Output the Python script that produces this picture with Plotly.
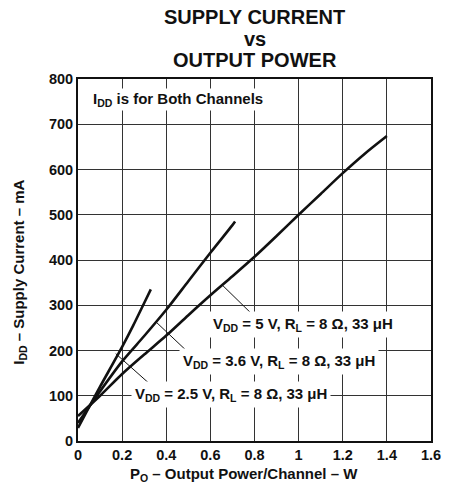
import plotly.graph_objects as go

# ---- data ----
p_5v = [0.0, 0.1, 0.2, 0.3, 0.4, 0.5, 0.6, 0.7, 0.8, 0.9, 1.0, 1.1, 1.2, 1.3, 1.4]
i_5v = [55, 100, 148, 191, 233, 278, 322, 364, 407, 453, 500, 546, 592, 635, 674]

p_36v = [0.0, 0.1, 0.2, 0.3, 0.4, 0.5, 0.6, 0.7, 0.712]
i_36v = [40, 110, 176, 232, 290, 353, 416, 477, 485]

p_25v = [0.0, 0.05, 0.1, 0.2, 0.25, 0.3, 0.33]
i_25v = [29, 75, 120, 208, 255, 305, 335]

x_ticks = [0, 0.2, 0.4, 0.6, 0.8, 1.0, 1.2, 1.4, 1.6]
x_tick_labels = ["0", "0.2", "0.4", "0.6", "0.8", "1", "1.2", "1.4", "1.6"]
y_ticks = [0, 100, 200, 300, 400, 500, 600, 700, 800]

labels = [
    "V<sub>DD</sub> = 5 V, R<sub>L</sub> = 8 Ω, 33 μH",
    "V<sub>DD</sub> = 3.6 V, R<sub>L</sub> = 8 Ω, 33 μH",
    "V<sub>DD</sub> = 2.5 V, R<sub>L</sub> = 8 Ω, 33 μH",
]
label_pos = [(1.022, 257), (0.910, 176), (0.694, 103)]
leader_start = [(0.653, 345), (0.356, 262), (0.171, 193)]
leader_end = [(0.800, 275), (0.506, 193), (0.337, 121)]

FONT = "Liberation Sans, Arial, sans-serif"

fig = go.Figure()
for xs, ys in [(p_5v, i_5v), (p_36v, i_36v), (p_25v, i_25v)]:
    fig.add_trace(go.Scatter(x=xs, y=ys, mode="lines",
                             line=dict(color="#111111", width=2.6, shape="spline", smoothing=0.8),
                             showlegend=False, hoverinfo="skip"))

# leader lines
for (x0, y0), (x1, y1) in zip(leader_start, leader_end):
    fig.add_shape(type="line", x0=x0, y0=y0, x1=x1, y1=y1, xref="x", yref="y",
                  line=dict(color="#111111", width=1))

# curve labels
for txt, (lx, ly) in zip(labels, label_pos):
    fig.add_annotation(x=lx, y=ly, xref="x", yref="y", text=txt, showarrow=False,
                       font=dict(family=FONT, size=15, color="#111111", weight="bold"),
                       bgcolor="white", borderpad=3)

fig.add_annotation(x=0.452, y=754, xref="x", yref="y",
                   text="I<sub>DD</sub> is for Both Channels", showarrow=False,
                   font=dict(family=FONT, size=15, color="#111111", weight="bold"),
                   bgcolor="white", borderpad=1)

# title lines
for txt, ypx in [("SUPPLY CURRENT", 17), ("vs", 39), ("OUTPUT POWER", 60)]:
    fig.add_annotation(x=0.5, y=1 + (79 - ypx) / 362.5, xref="paper", yref="paper",
                       text=txt, showarrow=False, yanchor="middle",
                       font=dict(family=FONT, size=20, color="#111111", weight="bold"))

# axis titles
fig.add_annotation(x=(248.5 - 78.5) / 362.5, y=-(475 - 441.5) / 362.5, xref="paper", yref="paper",
                   text="P<sub>O</sub> – Output Power/Channel – W", showarrow=False,
                   yanchor="middle",
                   font=dict(family=FONT, size=15, color="#111111", weight="bold"))
fig.add_annotation(x=-(78.5 - 19) / 362.5, y=(441.5 - 273) / 362.5, xref="paper", yref="paper",
                   text="I<sub>DD</sub> – Supply Current – mA", showarrow=False, textangle=-90,
                   xanchor="center", yanchor="middle",
                   font=dict(family=FONT, size=15, color="#111111", weight="bold"))

fig.update_layout(
    width=453, height=489,
    margin=dict(l=78, r=12, t=79, b=48),
    paper_bgcolor="white", plot_bgcolor="white",
    font=dict(family=FONT, size=14, color="#111111", weight="bold"),
)
fig.update_xaxes(range=[0, 1.6], tickvals=x_ticks, ticktext=x_tick_labels,
                 showgrid=True, gridcolor="#333333", gridwidth=1,
                 showline=True, linecolor="#111111", linewidth=2, mirror=True,
                 zeroline=False, ticks="", tickfont=dict(size=14.5))
fig.update_yaxes(range=[0, 800], tickvals=y_ticks,
                 showgrid=True, gridcolor="#333333", gridwidth=1,
                 showline=True, linecolor="#111111", linewidth=2, mirror=True,
                 zeroline=False, ticks="", tickfont=dict(size=14.5))

fig.write_html("out.html", config={"displayModeBar": False},
               post_script="document.body.style.margin='0';document.body.style.overflow='hidden';")
